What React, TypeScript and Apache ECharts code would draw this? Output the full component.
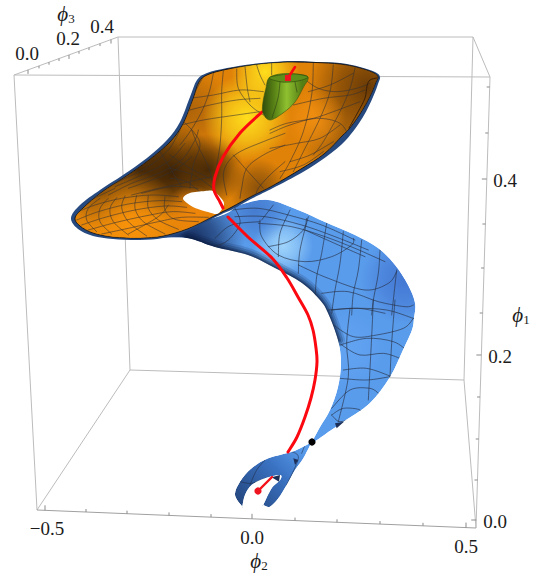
import React, { useEffect, useRef } from "react";
import * as echarts from "echarts";

type P = number[];
const crop = (ox: number, oy: number, pts: P[]): P[] => pts.map(([x, y]) => [ox + x / 3, oy + y / 3]);

// Box corners
const boxEdges: P[][] = [
  [[118, 37], [473, 37]], [[14, 75], [490, 77]], [[14, 75], [118, 37]], [[473, 37], [490, 77]],
  [[14, 75], [37, 510]], [[118, 37], [130, 370]], [[473, 37], [464, 380]], [[490, 77], [476, 528]],
  [[130, 370], [464, 380]], [[37, 510], [130, 370]], [[464, 380], [476, 528]],
];
const bottomEdge: P[] = [[37, 510], [476, 528]];

const phi2Ticks = [45, 86, 127, 169, 211, 252, 295, 337, 380, 423, 466];
const phi2Major = [45, 252, 466];
const phi1Ticks = [87, 133, 179, 224, 268, 313, 355, 397, 439, 480, 520];
const phi1Major = [179, 355, 520];
const phi3Ticks = [28, 39, 49, 59, 69, 79, 89, 100, 111];
const phi3Major = [28, 69, 111];

const tickLabels = [
  { t: "0.0", x: 27, y: 53 }, { t: "0.2", x: 68, y: 38 }, { t: "0.4", x: 102, y: 26 },
  { t: "\u22120.5", x: 47, y: 528 }, { t: "0.0", x: 252, y: 537 }, { t: "0.5", x: 466, y: 546 },
  { t: "0.0", x: 495, y: 521 }, { t: "0.2", x: 500, y: 356 }, { t: "0.4", x: 505, y: 180 },
];
const axisNames = [
  { sub: "3", x: 66, y: 14 }, { sub: "2", x: 259, y: 561 }, { sub: "1", x: 521, y: 315 },
];

const rimOutline: P[] = [[71, 218], [80, 205], [100, 190], [123, 175], [147, 158], [167, 140], [180, 122], [190, 97], [197, 80], [207, 73], [227, 68], [253, 64], [273, 62], [293, 61], [316, 62], [340, 63], [360, 67], [375, 72], [380, 77], [378, 84], [373, 97], [363, 117], [346, 140], [326, 157], [303, 172], [273, 188], [253, 198], [233, 209], [222, 214], [210, 220], [187, 231], [163, 238], [140, 240], [113, 239], [93, 236], [78, 229]];
const orangeOutline: P[] = [[75, 218], [83, 208], [102, 192], [125, 177], [149, 160], [170, 142], [183, 124], [193, 99], [199, 82], [208, 74.5], [228, 69], [253, 65], [273, 63], [293, 62], [316, 62.5], [340, 64], [358, 67.5], [373, 72.5], [378, 77], [376, 82], [372, 92], [366, 104], [358, 117], [349, 129], [342, 136], [324, 154], [301, 169], [273, 185.5], [252, 196], [232, 207], [222, 212], [210, 218], [187, 229], [163, 236], [140, 238], [113, 237], [93, 233], [80, 226]];
const orangeFold: P[] = [[377, 78], [370, 80], [367, 86], [365, 98], [358, 112], [349, 128]];
const holeOutline: P[] = [[183, 198], [190, 193], [205, 191], [213, 191], [220, 197], [224, 203], [222, 209], [217, 214], [208, 212], [195, 208], [187, 203]];
const blueOutline: P[] = [[150, 236], [187, 238], [215, 247], [248, 255], [275, 268], [302, 283], [320, 300], [328, 313], [338, 340], [341, 363], [338, 387], [330, 410], [320, 427], [312, 442], [312, 442], [317, 440], [327, 433], [343, 422], [370, 403], [390, 377], [403, 350], [412, 330], [414, 318], [415, 303], [408, 285], [395, 265], [378, 248], [355, 235], [325, 222], [298, 210], [268, 200], [240, 205], [220, 216]];
const blueLowerEdge: P[] = [[187, 238], [215, 247], [248, 255], [275, 268], [302, 283], [320, 300], [328, 313], [338, 340]];
const clawOutline: P[] = crop(215, 420, [[290, 66], [290, 66], [240, 92], [160, 115], [110, 145], [75, 185], [60, 225], [82, 260], [82, 260], [90, 225], [110, 195], [150, 175], [195, 165], [195, 180], [170, 205], [145, 255], [145, 255], [165, 260], [190, 235], [215, 195], [240, 150], [265, 115]]);
const clawNotches: P[][] = [crop(215, 420, [[170, 172], [195, 165], [192, 185]]), crop(215, 420, [[235, 115], [250, 120], [240, 135]]), crop(300, 300, [[105, 370], [132, 365], [110, 385]])];
const clawMesh: P[][] = [crop(215, 420, [[150, 120], [125, 150], [105, 195]]), crop(215, 420, [[75, 185], [110, 190], [150, 175]]), crop(215, 420, [[230, 95], [250, 115], [215, 195]]), crop(215, 420, [[268, 80], [260, 100]])];

const cupOutline: P[] = [[269, 78], [280, 74], [295, 74], [308, 77], [303, 88], [295, 102], [283, 113], [270, 120], [263, 113], [263, 102], [266, 88]];
const cupRim: P[] = [[269, 78], [280, 75], [295, 74], [308, 77], [298, 81], [282, 82]];
const cupMesh: P[][] = [[[295, 82], [297, 92]], [[280, 82], [278, 98], [272, 118]]];

const redLower: P[] = [[258, 491], [272, 477]];
const redMid: P[] = [[288, 452], [297, 437], [305, 417], [311, 398], [315, 380], [317, 362], [316, 348], [313, 330], [308, 315], [298, 297], [287, 278], [272, 258], [248, 237], [228, 217]];
const redUpper: P[] = [[262, 112], [240, 133], [223, 157], [215, 177], [214, 190], [220, 202], [223, 208]];
const redTop: P[] = [[288, 78], [295, 67]];
const redStart = [258, 491];
const redEnd = [288, 78];
const blackDot = [312, 442];

const orangeMesh: P[][] = [
  ...[
    [[28, 250], [90, 225], [170, 205], [260, 195], [340, 200]],
    [[35, 270], [100, 245], [190, 222], [280, 212], [350, 215]],
    [[50, 285], [120, 262], [210, 240], [300, 228], [365, 232]],
    [[70, 300], [150, 278], [240, 258], [320, 245], [390, 250]],
    [[110, 312], [190, 295], [280, 275], [350, 262], [430, 262]],
    [[105, 205], [70, 235], [65, 270], [95, 305]],
    [[130, 205], [105, 235], [105, 275], [140, 312]],
    [[155, 203], [135, 235], [145, 275], [190, 315]],
    [[180, 198], [170, 232], [190, 275], [245, 318]],
    [[215, 197], [210, 235], [235, 275], [300, 312]],
    [[250, 198], [250, 235], [280, 270], [340, 298]],
    [[300, 200], [300, 240], [330, 268], [400, 275]],
    [[310, 225], [280, 260], [190, 312]],
    [[90, 190], [170, 150], [250, 110], [310, 60], [345, 0]],
    [[130, 195], [200, 160], [280, 130], [350, 90], [390, 30], [400, 0]],
    [[200, 195], [280, 175], [350, 160], [440, 140]],
    [[380, 0], [400, 50], [430, 110], [445, 170]],
    [[260, 20], [300, 90], [350, 170]],
    [[190, 175], [260, 150], [330, 120], [380, 80]],
    [[150, 170], [230, 135], [310, 95], [360, 40]],
    [[60, 218], [150, 175]],
    [[230, 190], [320, 170], [400, 175]],
  ].map((l) => crop(65, 130, l as P[])),
  ...[
    [[130, 55], [118, 110], [95, 170], [60, 230], [30, 270]],
    [[160, 48], [155, 110], [155, 190], [150, 270], [140, 330]],
    [[200, 42], [205, 100], [240, 150], [280, 180]],
    [[260, 30], [270, 60], [285, 90]],
    [[305, 25], [305, 60]],
    [[225, 35], [232, 100], [240, 140]],
    [[100, 65], [70, 120], [45, 170], [20, 210]],
    [[60, 130], [130, 120], [210, 105], [280, 110]],
    [[40, 170], [120, 150], [200, 135], [270, 130]],
    [[15, 215], [100, 195], [200, 180], [270, 170]],
    [[30, 190], [70, 230], [90, 270], [70, 330], [60, 400]],
    [[0, 300], [60, 340], [120, 370]],
    [[345, 235], [280, 260], [210, 290], [175, 320], [160, 360], [170, 420]],
    [[345, 270], [280, 300], [230, 340], [215, 400], [210, 430]],
    [[345, 320], [300, 360], [265, 400], [255, 430]],
    [[190, 300], [230, 345], [280, 400]],
    [[0, 340], [70, 360], [130, 400]],
    [[0, 370], [50, 380], [100, 420]],
  ].map((l) => crop(170, 55, l as P[])),
  ...[
    [[130, 25], [125, 120], [100, 230], [60, 320], [30, 370]],
    [[190, 30], [180, 110], [150, 190], [100, 290], [70, 350]],
    [[255, 40], [240, 100], [210, 170], [160, 260], [130, 300]],
    [[0, 235], [60, 210], [140, 190], [210, 205], [240, 250]],
    [[100, 70], [145, 100], [200, 110], [260, 100], [300, 85]],
    [[70, 150], [160, 130], [240, 120], [285, 105]],
    [[0, 225], [50, 205], [130, 190], [190, 170], [270, 140]],
    [[0, 280], [80, 265], [150, 250], [210, 210]],
    [[115, 110], [180, 90], [250, 55]],
    [[60, 320], [120, 300], [190, 260]],
    [[30, 350], [100, 330], [160, 290]],
  ].map((l) => crop(270, 55, l as P[])),
];

const blueMesh: P[][] = [
  ...[
    [[50, 60], [130, 55], [220, 75], [320, 105], [420, 150]],
    [[60, 80], [150, 80], [260, 105], [360, 140], [460, 180]],
    [[130, 100], [230, 110], [330, 140], [420, 175], [510, 215]],
    [[270, 120], [370, 165], [450, 200]],
    [[135, 90], [140, 140], [190, 195], [270, 215], [350, 200], [410, 165], [415, 145]],
    [[275, 85], [265, 120], [220, 155], [160, 170]],
    [[250, 225], [340, 265], [450, 300], [520, 280], [545, 245]],
    [[320, 310], [400, 305], [490, 335], [570, 350], [595, 345]],
    [[340, 360], [430, 355], [510, 370]],
    [[225, 60], [195, 130], [190, 200]],
    [[175, 45], [140, 90]],
    [[280, 80], [255, 180], [250, 250]],
    [[335, 100], [320, 190], [305, 260], [300, 330]],
    [[385, 125], [375, 220], [360, 300], [350, 370]],
    [[440, 150], [430, 240], [415, 310], [410, 375]],
    [[495, 180], [490, 250], [475, 330], [470, 375]],
    [[545, 240], [535, 330], [530, 375]],
    [[60, 55], [75, 100], [40, 150], [0, 170]],
    [[0, 145], [50, 105], [135, 95]],
  ].map((l) => crop(215, 190, l as P[])),
  ...[
    [[95, 30], [170, 25], [260, 30], [340, 55]],
    [[100, 75], [160, 110], [230, 105], [310, 85], [340, 55]],
    [[120, 135], [200, 115], [280, 125], [325, 155]],
    [[125, 135], [180, 165], [250, 160], [300, 175]],
    [[120, 235], [200, 240], [270, 230]],
    [[130, 210], [200, 205], [275, 230]],
    [[95, 325], [150, 270], [210, 265], [235, 280]],
    [[95, 345], [130, 325], [180, 330], [165, 350], [120, 365], [95, 345]],
    [[220, 0], [215, 110], [205, 300]],
    [[150, 25], [140, 130], [145, 230], [115, 365]],
    [[285, 0], [275, 130], [270, 230]],
  ].map((l) => crop(300, 300, l as P[])),
];

const orangeShades: [number, number, number, string, number][] = [
  [190, 110, 42, "158,90,10", 0.75],
  [140, 172, 48, "60,34,6", 0.9],
  [105, 195, 34, "60,34,6", 0.7],
  [172, 172, 48, "60,34,6", 1],
  [208, 170, 36, "60,34,6", 0.9],
  [247, 118, 44, "255,222,28", 1],
  [265, 72, 34, "255,222,28", 1],
  [130, 226, 56, "248,146,10", 1],
  [192, 213, 28, "240,134,10", 0.95],
  [368, 88, 60, "98,54,6", 0.95],
  [340, 142, 40, "130,76,10", 0.6],
  [316, 120, 30, "248,148,20", 0.7],
  [258, 188, 30, "120,70,10", 0.8],
];
const blueShades: [number, number, number, string, number][] = [
  [190, 242, 55, "18,40,88", 1],
  [405, 280, 45, "58,104,200", 0.7],
  [283, 246, 30, "176,226,255", 0.8],
  [345, 350, 40, "110,175,250", 0.4],
  [255, 210, 35, "60,110,196", 0.7],
];

const W = 546;
const H = 573;

function smoothPath(pts: number[][], closed: boolean): string {
  const n = pts.length;
  const at = (i: number) => (closed ? pts[(i + n) % n] : pts[Math.max(0, Math.min(n - 1, i))]);
  let d = `M${pts[0][0]} ${pts[0][1]}`;
  const end = closed ? n : n - 1;
  for (let i = 0; i < end; i++) {
    const p0 = at(i - 1), p1 = at(i), p2 = at(i + 1), p3 = at(i + 2);
    d += `C${p1[0] + (p2[0] - p0[0]) / 6} ${p1[1] + (p2[1] - p0[1]) / 6} ${p2[0] - (p3[0] - p1[0]) / 6} ${p2[1] - (p3[1] - p1[1]) / 6} ${p2[0]} ${p2[1]}`;
  }
  return d + (closed ? "Z" : "");
}

function renderAll(_: any, api: any) {
  const c = (p: number[]) => api.coord(p) as number[];
  const map = (ps: P[]) => ps.map(c);
  const shape = (ps: P[], fill: any, stroke?: string, lw = 0) => ({
    type: "path", shape: { pathData: smoothPath(map(ps), true) },
    style: { fill, stroke: stroke || "none", lineWidth: lw },
  });
  const curve = (ps: P[], stroke: string, lw: number) => ({
    type: "path", shape: { pathData: smoothPath(map(ps), false) },
    style: { fill: "none", stroke, lineWidth: lw, lineCap: "round" },
  });
  const clipped = (ps: P[], children: any[]) => ({
    type: "group", clipPath: { type: "path", shape: { pathData: smoothPath(map(ps), true) } }, children,
  });
  const seg = (a: P, b: P, stroke: string, lw = 1) => {
    const [p, q] = [c(a), c(b)];
    return { type: "line", shape: { x1: p[0], y1: p[1], x2: q[0], y2: q[1] }, style: { stroke, lineWidth: lw } };
  };
  const dot = (p: number[], r: number, fill: string) => {
    const q = c(p);
    return { type: "circle", shape: { cx: q[0], cy: q[1], r }, style: { fill } };
  };
  const radial = ([x, y, r, rgb, a]: [number, number, number, string, number]) => {
    const q = c([x, y]);
    return new echarts.graphic.RadialGradient(q[0], q[1], r, [
      { offset: 0, color: `rgba(${rgb},${a})` },
      { offset: 0.5, color: `rgba(${rgb},${a * 0.6})` },
      { offset: 1, color: `rgba(${rgb},0)` },
    ], true);
  };
  const lerp = (e: P[], t: number) => e[0][1] + ((t - e[0][0]) * (e[1][1] - e[0][1])) / (e[1][0] - e[0][0]);
  const kids: any[] = [];
  const gray = "#bcbcbc";
  boxEdges.forEach((e) => kids.push(seg(e[0], e[1], gray)));
  kids.push(seg(bottomEdge[0], bottomEdge[1], "#a0a0a0"));

  phi2Ticks.forEach((x) => {
    const y = lerp(bottomEdge, x);
    kids.push(seg([x, y], [x, y - (phi2Major.includes(x) ? 5 : 3)], "#8a8a8a"));
  });
  phi1Ticks.forEach((y) => {
    const x = 490 - ((y - 77) * 14) / 451;
    kids.push(seg([x, y], [x - (phi1Major.includes(y) ? 5 : 3), y], "#8a8a8a"));
  });
  phi3Ticks.forEach((x) => {
    const y = 75 - ((x - 14) * 38) / 104;
    kids.push(seg([x, y], [x, y + (phi3Major.includes(x) ? 4 : 2.5)], "#8a8a8a"));
  });

  // blue sheet
  const blueKids: any[] = [shape(blueOutline, "#5a9cec")];
  blueShades.forEach((s) => blueKids.push(shape(blueOutline, radial(s))));
  [[14, "rgba(10,26,60,0.16)"], [10, "rgba(10,26,60,0.22)"], [6, "rgba(10,26,60,0.3)"], [3, "rgba(10,26,60,0.4)"]].forEach(([w, col]) =>
    blueKids.push(curve(blueLowerEdge, col as string, w as number)));
  blueMesh.forEach((l) => blueKids.push(curve(l, "rgba(40,50,70,0.72)", 0.9)));
  kids.push(clipped(blueOutline, blueKids));

  // claw
  const a0 = c([235, 500]), a1 = c([295, 440]);
  const clawKids: any[] = [shape(clawOutline, new echarts.graphic.LinearGradient(a0[0], a0[1], a1[0], a1[1], [
    { offset: 0, color: "#24477f" }, { offset: 0.6, color: "#3a72c2" }, { offset: 1, color: "#5a9cec" },
  ], true))];
  clawMesh.forEach((l) => clawKids.push(curve(l, "rgba(30,40,60,0.65)", 0.8)));
  kids.push(clipped(clawOutline, clawKids));
  clawNotches.forEach((n) => kids.push({ type: "polygon", shape: { points: map(n) }, style: { fill: "#1c2f58" } }));

  // orange sheet
  kids.push(shape(rimOutline, "#26497f"));
  kids.push(shape(orangeOutline, "#e08208", "#17181c", 1));
  const orangeKids: any[] = [];
  orangeShades.forEach((s) => orangeKids.push(shape(orangeOutline, radial(s))));
  orangeMesh.forEach((l) => orangeKids.push(curve(l, "rgba(55,50,50,0.64)", 0.9)));
  orangeKids.push(curve(orangeFold, "#3a2008", 1));
  kids.push(clipped(orangeOutline, orangeKids));
  kids.push(shape(holeOutline, "#ffffff"));

  // red path, lower and middle
  kids.push(curve(redLower, "#f5101a", 2.4));
  kids.push(curve(redMid, "#fb0810", 3));
  kids.push(dot(redStart, 3.6, "#ee1520"));
  kids.push(curve(redUpper, "#fb0810", 3));

  // green cup
  const g0 = c([262, 0])[0], g1 = c([302, 0])[0];
  kids.push(shape(cupOutline, new echarts.graphic.LinearGradient(g0, 0, g1, 0, [
    { offset: 0, color: "#2e4a0a" }, { offset: 0.35, color: "#5f8a18" }, { offset: 0.62, color: "#8fc030" }, { offset: 1, color: "#557f14" },
  ], true), "#3a5510", 0.6));
  kids.push(shape(cupRim, "#5f8f1a", "#34500c", 0.7));
  cupMesh.forEach((l) => kids.push(curve(l, "rgba(40,60,20,0.7)", 0.8)));
  kids.push(curve(redTop, "#fb0810", 2.6));
  const e = c(redEnd);
  kids.push({ type: "rect", shape: { x: e[0] - 3, y: e[1] - 3, width: 6, height: 6 }, style: { fill: "#ee1520" } });

  kids.push(dot(blackDot, 3.6, "#000000"));

  // texts
  tickLabels.forEach((l) => {
    const q = c([l.x, l.y]);
    kids.push({ type: "text", style: { text: l.t, x: q[0], y: q[1], align: "center", verticalAlign: "middle", fill: "#1c1c1c", font: '19px "Liberation Serif"' } });
  });
  axisNames.forEach((l) => {
    const q = c([l.x, l.y]);
    kids.push({
      type: "text",
      style: {
        text: `{i|\u03d5}{s|${l.sub}}`, x: q[0], y: q[1], align: "center", verticalAlign: "middle", fill: "#1c1c1c",
        rich: {
          i: { font: 'italic 21px "Liberation Serif"', fill: "#1c1c1c" },
          s: { font: '13px "Liberation Serif"', fill: "#1c1c1c", verticalAlign: "bottom", padding: [6, 0, 0, 0] },
        },
      },
    });
  });
  return { type: "group", children: kids };
}

export default function App() {
  const ref = useRef<HTMLDivElement>(null);
  useEffect(() => {
    document.body.style.margin = "0";
    const chart = echarts.init(ref.current!, null, { renderer: "svg" });
    chart.setOption({
      animation: false,
      backgroundColor: "#ffffff",
      grid: { left: 0, right: 0, top: 0, bottom: 0 },
      xAxis: { type: "value", min: 0, max: W, show: false },
      yAxis: { type: "value", min: 0, max: H, inverse: true, show: false },
      series: [{ type: "custom", data: [[0, 0]], clip: false, silent: true, renderItem: renderAll }],
    });
    return () => chart.dispose();
  }, []);
  return <div ref={ref} style={{ width: W, height: H }} />;
}
